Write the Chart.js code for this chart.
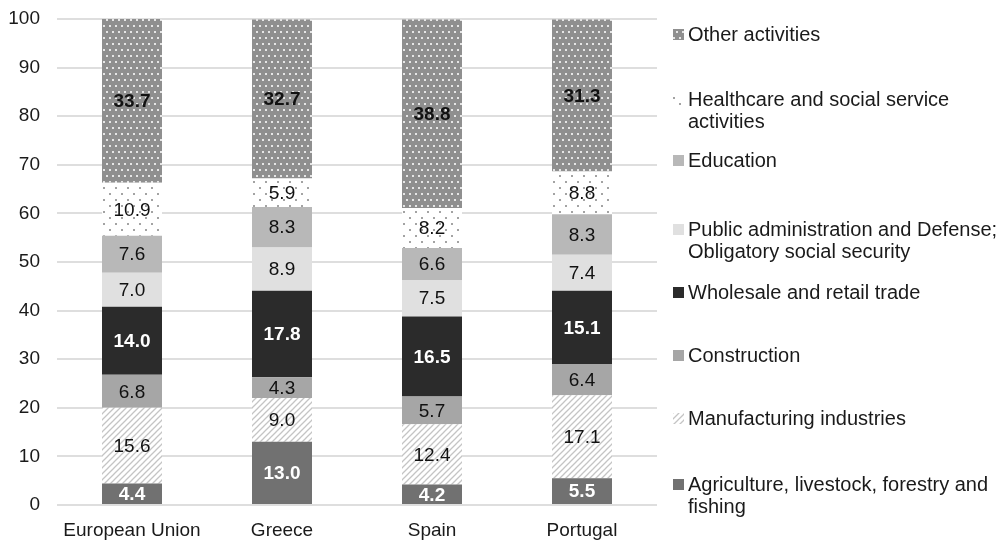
<!DOCTYPE html>
<html>
<head>
<meta charset="utf-8">
<script src="https://cdn.jsdelivr.net/npm/chart.js@4/dist/chart.umd.min.js"></script>
<style>
  html, body { margin: 0; padding: 0; background: #fff; }
  #wrap { width: 1006px; height: 542px; position: relative; }
</style>
</head>
<body>
<div id="wrap"><canvas id="chart" width="1006" height="542"></canvas></div>
<script>
// categories and series (percent of employment)
const countries = ['European Union', 'Greece', 'Spain', 'Portugal'];
const agriculture   = [4.4, 13.0, 4.2, 5.5];
const manufacturing = [15.6, 9.0, 12.4, 17.1];
const construction  = [6.8, 4.3, 5.7, 6.4];
const wholesale     = [14.0, 17.8, 16.5, 15.1];
const publicAdmin   = [7.0, 8.9, 7.5, 7.4];
const education     = [7.6, 8.3, 6.6, 8.3];
const healthcare    = [10.9, 5.9, 8.2, 8.8];
const other         = [33.7, 32.7, 38.8, 31.3];
const yTicks = [0, 10, 20, 30, 40, 50, 60, 70, 80, 90, 100];

const FONT = '"Liberation Sans", Arial, sans-serif';

// little tile patterns, like the office fills
function makePattern(size, draw) {
    const c = document.createElement('canvas');
    c.width = size; c.height = size;
    const g = c.getContext('2d');
    draw(g, size);
    return document.getElementById('chart').getContext('2d').createPattern(c, 'repeat');
}

const otherFill = makePattern(12, (g) => {
    g.fillStyle = '#8f8f8f';
    g.fillRect(0, 0, 12, 12);
    g.fillStyle = '#e6e6e6';
    g.fillRect(1, 1, 2, 2);
    g.fillRect(7, 1, 2, 2);
    g.fillRect(4, 7, 2, 2);
    g.fillRect(10, 7, 2, 2);
});
const healthFill = makePattern(12, (g) => {
    g.fillStyle = '#ffffff';
    g.fillRect(0, 0, 12, 12);
    g.fillStyle = '#a3a3a3';
    g.fillRect(1, 1, 2, 2);
    g.fillRect(7, 7, 2, 2);
});
const manufFill = makePattern(6, (g) => {
    g.fillStyle = '#ffffff';
    g.fillRect(0, 0, 6, 6);
    g.strokeStyle = '#c4c4c4';
    g.lineWidth = 1.3;
    g.beginPath();
    g.moveTo(-1, 7); g.lineTo(7, -1);
    g.moveTo(-4, 4); g.lineTo(4, -4);
    g.moveTo(2, 10); g.lineTo(10, 2);
    g.stroke();
});

const series = [
    { label: 'Agriculture, livestock, forestry and\nfishing', data: agriculture, fill: '#717171', text: '#ffffff', bold: true, legendY: 484 },
    { label: 'Manufacturing industries', data: manufacturing, fill: manufFill, text: '#111', bold: false, legendY: 418 },
    { label: 'Construction', data: construction, fill: '#a6a6a6', text: '#111', bold: false, legendY: 355 },
    { label: 'Wholesale and retail trade', data: wholesale, fill: '#2b2b2b', text: '#ffffff', bold: true, legendY: 292 },
    { label: 'Public administration and Defense;\nObligatory social security', data: publicAdmin, fill: '#e0e0e0', text: '#111', bold: false, legendY: 229 },
    { label: 'Education', data: education, fill: '#b8b8b8', text: '#111', bold: false, legendY: 160 },
    { label: 'Healthcare and social service\nactivities', data: healthcare, fill: healthFill, text: '#111', bold: false, legendY: 99 },
    { label: 'Other activities', data: other, fill: otherFill, text: '#111', bold: true, legendY: 34 }
];

// value labels centred in each segment
const valueLabels = {
    id: 'valueLabels',
    afterDatasetsDraw(chart) {
        const ctx = chart.ctx;
        ctx.save();
        ctx.textAlign = 'center';
        ctx.textBaseline = 'middle';
        chart.data.datasets.forEach((ds, i) => {
            const s = series[i];
            ctx.font = (s.bold ? 'bold ' : '') + '19px ' + FONT;
            ctx.fillStyle = s.text;
            chart.getDatasetMeta(i).data.forEach((bar, j) => {
                const v = ds.data[j];
                ctx.fillText(v.toFixed(1), bar.x, (bar.y + bar.base) / 2 + 1);
            });
        });
        ctx.restore();
    }
};

// legend on the right, drawn with the same fills
const sideLegend = {
    id: 'sideLegend',
    afterDraw(chart) {
        const ctx = chart.ctx;
        ctx.save();
        ctx.font = '20px ' + FONT;
        ctx.textBaseline = 'middle';
        ctx.textAlign = 'left';
        series.forEach(s => {
            ctx.fillStyle = s.fill;
            ctx.fillRect(673, s.legendY - 5, 11, 11);
            ctx.fillStyle = '#1a1a1a';
            s.label.split('\n').forEach((line, k) => {
                ctx.fillText(line, 688, s.legendY + 1 + k * 22);
            });
        });
        ctx.restore();
    }
};

new Chart(document.getElementById('chart'), {
    type: 'bar',
    data: {
        labels: countries,
        datasets: series.map(s => ({
            label: s.label,
            data: s.data,
            backgroundColor: s.fill,
            borderWidth: 0,
            barPercentage: 0.4,
            categoryPercentage: 1.0
        }))
    },
    options: {
        responsive: false,
        animation: false,
        layout: { padding: { top: 19, right: 349, left: 0, bottom: 0 } },
        plugins: {
            legend: { display: false },
            tooltip: { enabled: false }
        },
        scales: {
            x: {
                stacked: true,
                grid: { display: false },
                border: { display: false },
                ticks: { color: '#1a1a1a', font: { family: FONT, size: 19 }, padding: 6 },
                afterFit: (scale) => { scale.height = 37; scale.paddingTop = 0; scale.paddingBottom = 0; }
            },
            y: {
                stacked: true,
                min: 0,
                max: 100,
                afterBuildTicks: (scale) => { scale.ticks = yTicks.map(v => ({ value: v })); },
                grid: { color: '#dedede', lineWidth: 2, drawTicks: false },
                border: { display: false },
                ticks: { color: '#1a1a1a', font: { family: FONT, size: 19 }, padding: 17 },
                afterFit: (scale) => { scale.width = 57; scale.paddingTop = 0; scale.paddingBottom = 0; }
            }
        }
    },
    plugins: [valueLabels, sideLegend]
});
</script>
</body>
</html>
